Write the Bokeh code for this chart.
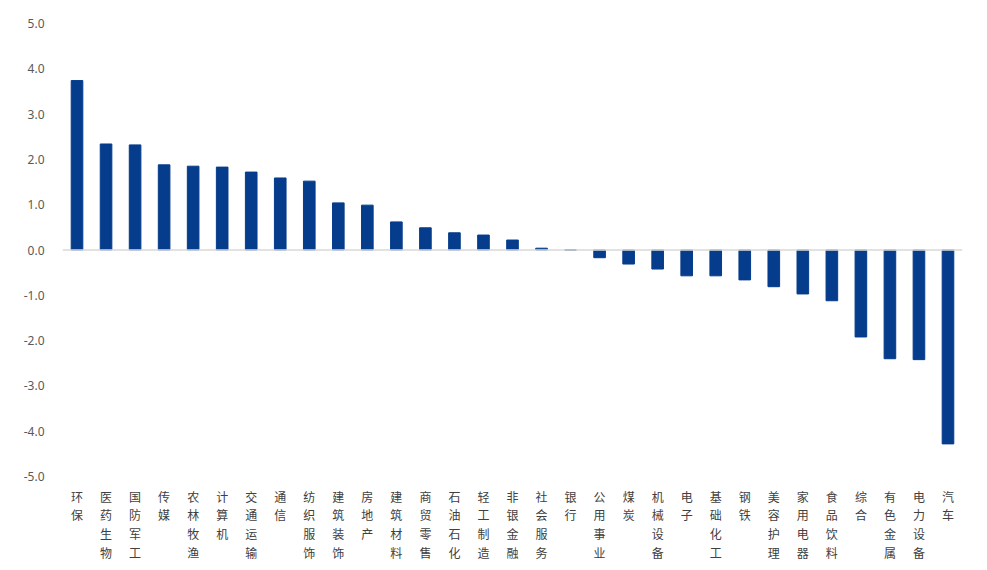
from bokeh.plotting import figure
from bokeh.models import ColumnDataSource, FactorRange, Span, NumeralTickFormatter, FixedTicker
from bokeh.embed import file_html
from bokeh.resources import INLINE

categories = ["环保", "医药生物", "国防军工", "传媒", "农林牧渔", "计算机", "交通运输", "通信",
              "纺织服饰", "建筑装饰", "房地产", "建筑材料", "商贸零售", "石油石化", "轻工制造",
              "非银金融", "社会服务", "银行", "公用事业", "煤炭", "机械设备", "电子", "基础化工",
              "钢铁", "美容护理", "家用电器", "食品饮料", "综合", "有色金属", "电力设备", "汽车"]
values = [3.74, 2.34, 2.32, 1.88, 1.85, 1.83, 1.72, 1.59, 1.52, 1.04, 0.99, 0.62, 0.49, 0.38,
          0.33, 0.22, 0.04, 0.0, -0.17, -0.31, -0.42, -0.57, -0.57, -0.66, -0.81, -0.97, -1.12,
          -1.92, -2.40, -2.42, -4.28]
y_ticks = [-5, -4, -3, -2, -1, 0, 1, 2, 3, 4, 5]

factors = ["\n".join(c) for c in categories]
src = ColumnDataSource(dict(x=factors, top=values))

p = figure(width=987, height=570, x_range=FactorRange(*factors, range_padding=0),
           y_range=(-5, 5), output_backend="svg", toolbar_location=None,
           min_border_left=62, min_border_right=25, min_border_top=23, min_border_bottom=94)

p.vbar(x="x", top="top", bottom=0, width=0.4, source=src, color="#053C8C")
p.add_layout(Span(location=0, dimension="width", line_color="#D9D9D9", line_width=1.5))

p.outline_line_color = None
p.xgrid.visible = False
p.ygrid.visible = False

p.yaxis.ticker = FixedTicker(ticks=y_ticks)
p.yaxis.formatter = NumeralTickFormatter(format="0.0")
p.yaxis.axis_line_color = None
p.yaxis.major_tick_line_color = None
p.yaxis.minor_tick_line_color = None
p.yaxis.major_label_text_font = "Noto Sans"
p.yaxis.major_label_text_font_size = "12px"
p.yaxis.major_label_text_color = "#595959"
p.yaxis.major_label_standoff = 12

p.xaxis.axis_line_color = None
p.xaxis.major_tick_line_color = None
p.xaxis.minor_tick_line_color = None
p.xaxis.major_label_text_font = "Noto Sans CJK SC"
p.xaxis.major_label_text_font_size = "12px"
p.xaxis.major_label_text_color = "#404040"
p.xaxis.major_label_text_line_height = 1.1
p.xaxis.major_label_standoff = 5
p.xaxis.major_label_orientation = "horizontal"

open("out.html", "w").write(file_html(p, INLINE))
